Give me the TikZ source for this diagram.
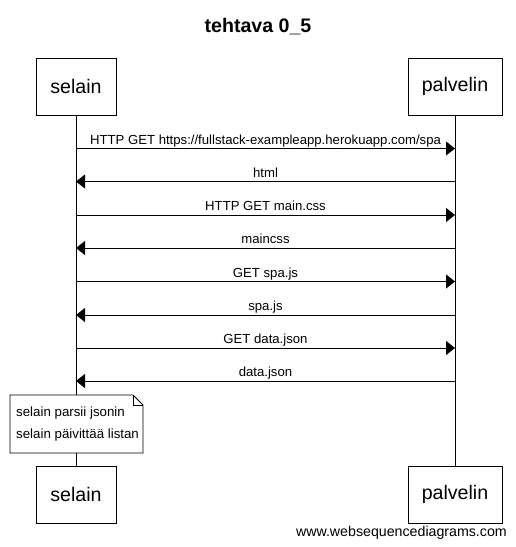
\documentclass[tikz,border=0pt]{standalone}
\usepackage{fontspec}
\setmainfont{Liberation Sans}
\usetikzlibrary{arrows.meta}
\tikzset{
  actor/.style={draw, line width=0.8pt, fill=white, minimum height=57pt, font=\fontsize{19.6}{22}\selectfont, inner sep=0pt},
  msg/.style={line width=0.8pt, -{Triangle[length=9pt,width=14pt]}},
  lifeline/.style={line width=0.8pt},
  lbl/.style={font=\fontsize{13.15}{15}\selectfont, inner sep=0pt, anchor=base},
  notetext/.style={font=\fontsize{13.3}{21.5}\selectfont, align=left, inner sep=0pt, anchor=west},
}
\begin{document}
\begin{tikzpicture}[x=1pt,y=-1pt]
\useasboundingbox (0,0) rectangle (516,547);
\node[font=\bfseries\fontsize{19.6}{22}\selectfont] (title) at (258,27) {tehtava 0\_5};
\node[actor, minimum width=80pt] (s1) at (76,86.5) {selain};
\node[actor, minimum width=94pt] (p1) at (455,86.5) {palvelin};
\node[actor, minimum width=80pt] (s2) at (76,494.5) {selain};
\node[actor, minimum width=94pt] (p2) at (455,494.5) {palvelin};
% note
\coordinate (nt) at (76,395);
\coordinate (nb) at (76,453);
\draw[line width=0.8pt, fill=white] (10,395) -- (133,395) -- (143,405) -- (143,453) -- (10,453) -- cycle;
\draw[line width=0.6pt] (133,395) -- (133,405) -- (143,405);
\node[notetext] (note) at (16,424) {selain parsii jsonin\\selain päivittää listan};
% lifelines
\draw[lifeline] (s1.south) -- (nt);
\draw[lifeline] (nb) -- (s2.north);
\draw[lifeline] (p1.south) -- (p2.north);
% message points
\foreach \i/\y in {1/148.5,2/181.5,3/215,4/248,5/281.5,6/315,7/348,8/381}{
  \coordinate (L\i) at (76,\y);
  \coordinate (R\i) at (455,\y);
}
\draw[msg] (L1) -- node[lbl, yshift=4.5pt] {HTTP GET https://fullstack-exampleapp.herokuapp.com/spa} (R1);
\draw[msg] (R2) -- node[lbl, yshift=4.5pt] {html} (L2);
\draw[msg] (L3) -- node[lbl, yshift=4.5pt] {HTTP GET main.css} (R3);
\draw[msg] (R4) -- node[lbl, yshift=4.5pt] {maincss} (L4);
\draw[msg] (L5) -- node[lbl, yshift=4.5pt] {GET spa.js} (R5);
\draw[msg] (R6) -- node[lbl, yshift=4.5pt] {spa.js} (L6);
\draw[msg] (L7) -- node[lbl, yshift=4.5pt] {GET data.json} (R7);
\draw[msg] (R8) -- node[lbl, yshift=4.5pt] {data.json} (L8);
\node[font=\fontsize{14.2}{16}\selectfont, anchor=base east, inner sep=0pt] (footer) at (507,536) {www.websequencediagrams.com};
\end{tikzpicture}
\end{document}
